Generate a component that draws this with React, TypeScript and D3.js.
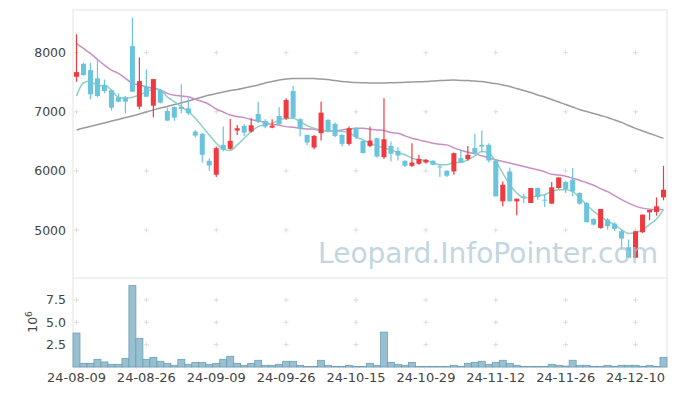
import * as d3 from 'd3'

const dates = [
  '24-08-09', '24-08-12', '24-08-13', '24-08-14', '24-08-16', '24-08-19', '24-08-20', '24-08-21', '24-08-22', '24-08-23',
  '24-08-26', '24-08-27', '24-08-28', '24-08-29', '24-08-30', '24-09-02', '24-09-03', '24-09-04', '24-09-05', '24-09-06',
  '24-09-09', '24-09-10', '24-09-11', '24-09-12', '24-09-13', '24-09-19', '24-09-20', '24-09-23', '24-09-24', '24-09-25',
  '24-09-26', '24-09-27', '24-09-30', '24-10-02', '24-10-04', '24-10-07', '24-10-08', '24-10-10', '24-10-11', '24-10-14',
  '24-10-15', '24-10-16', '24-10-17', '24-10-18', '24-10-21', '24-10-22', '24-10-23', '24-10-24', '24-10-25', '24-10-28',
  '24-10-29', '24-10-30', '24-10-31', '24-11-01', '24-11-04', '24-11-05', '24-11-06', '24-11-07', '24-11-08', '24-11-11',
  '24-11-12', '24-11-13', '24-11-14', '24-11-15', '24-11-18', '24-11-19', '24-11-20', '24-11-21', '24-11-22', '24-11-25',
  '24-11-26', '24-11-27', '24-11-28', '24-11-29', '24-12-02', '24-12-03', '24-12-04', '24-12-05', '24-12-06', '24-12-09',
  '24-12-10', '24-12-11', '24-12-12', '24-12-13', '24-12-16',
]

const open = [
  7592, 7811, 7705, 7565, 7452, 7363, 7245, 7245, 8110, 7087,
  7423, 7103, 7368, 7014, 7081, 7081, 7059, 6665, 6626, 6171,
  5935, 6440, 6373, 6682, 6761, 6665, 6963, 6845, 6732, 6929,
  6890, 7351, 6874, 6609, 6395, 6637, 6862, 6795, 6609, 6457,
  6722, 6508, 6423, 6553, 6232, 6423, 6339, 6171, 6086, 6120,
  6142, 6171, 6075, 6002, 5991, 6215, 6199, 6385, 6440, 6440,
  6171, 5485, 5991, 5485, 5569, 5457, 5710, 5513, 5446, 5710,
  5811, 5850, 5626, 5457, 5187, 5035, 5176, 5108, 4979, 4709,
  4530, 4962, 5299, 5305, 5552,
]
const high = [
  8312, 7830, 7828, 7885, 7548, 7370, 7312, 7267, 8593, 7919,
  7717, 7553, 7390, 7069, 7090, 7464, 7228, 6693, 6640, 6216,
  6412, 6750, 6880, 6778, 6789, 6890, 7170, 6874, 6874, 7076,
  7228, 7435, 6890, 6615, 6609, 7170, 6879, 6817, 6620, 6749,
  6740, 6520, 6749, 6564, 7228, 6497, 6401, 6180, 6469, 6272,
  6200, 6180, 6120, 6010, 6311, 6356, 6423, 6626, 6682, 6469,
  6187, 5822, 6058, 5530, 5614, 5710, 5720, 5597, 5811, 5890,
  5833, 6047, 5640, 5470, 5200, 5356, 5200, 5130, 5000, 4839,
  4979, 5260, 5339, 5552, 6086,
]
const low = [
  7508, 7610, 7211, 7245, 7312, 7022, 7160, 6975, 7339, 7042,
  7250, 6907, 7140, 6850, 6850, 6975, 6946, 6564, 6142, 6002,
  5896, 6328, 6356, 6609, 6592, 6648, 6806, 6722, 6722, 6766,
  6862, 6890, 6580, 6440, 6367, 6513, 6648, 6570, 6412, 6429,
  6540, 6300, 6401, 6226, 6204, 6159, 6176, 6064, 6064, 6103,
  6120, 6095, 5896, 5896, 5935, 6142, 6171, 6289, 6311, 6142,
  5569, 5400, 5485, 5251, 5457, 5457, 5513, 5390, 5446, 5700,
  5626, 5569, 5429, 5131, 5075, 5020, 5007, 4979, 4670, 4530,
  4530, 4950, 5164, 5243, 5502,
]
const close = [
  7671, 7621, 7295, 7267, 7351, 7069, 7171, 7171, 7339, 7519,
  7255, 7553, 7154, 6850, 6901, 7047, 6975, 6597, 6272, 6092,
  6385, 6356, 6508, 6722, 6648, 6772, 6833, 6749, 6766, 6789,
  7199, 6901, 6710, 6479, 6592, 6985, 6676, 6592, 6457, 6722,
  6570, 6300, 6513, 6243, 6536, 6289, 6260, 6086, 6142, 6204,
  6187, 6103, 6064, 5918, 6300, 6142, 6272, 6300, 6412, 6176,
  5569, 5766, 5485, 5530, 5552, 5710, 5558, 5502, 5721, 5890,
  5693, 5653, 5446, 5131, 5091, 5356, 5063, 5019, 4855, 4530,
  4979, 5260, 5339, 5400, 5682,
]

// volume, millions of shares
const volume = [
  3.8, 0.41, 0.41, 0.86, 0.56, 0.3, 0.3, 0.97, 9.1, 3.2,
  0.86, 1.08, 0.64, 0.41, 0.19, 0.86, 0.3, 0.52, 0.52, 0.3,
  0.41, 0.86, 1.2, 0.41, 0.19, 0.41, 0.75, 0.19, 0.19, 0.3,
  0.64, 0.64, 0.19, 0.07, 0.07, 0.75, 0.19, 0.07, 0.05, 0.19,
  0.05, 0.05, 0.41, 0.19, 3.9, 0.52, 0.3, 0.19, 0.52, 0.05,
  0.05, 0.05, 0.05, 0.05, 0.19, 0.05, 0.41, 0.52, 0.64, 0.3,
  0.52, 0.75, 0.41, 0.19, 0.05, 0.05, 0.05, 0.05, 0.3, 0.19,
  0.1, 0.75, 0.19, 0.19, 0.07, 0.07, 0.19, 0.07, 0.19, 0.19,
  0.19, 0.07, 0.19, 0.05, 1.08,
]

const ma5 = [
  7267, 7491, 7520, 7435, 7447, 7368, 7245, 7228, 7245, 7283,
  7339, 7380, 7368, 7250, 7170, 7086, 7002, 6891, 6749, 6609,
  6469, 6368, 6344, 6440, 6553, 6665, 6749, 6778, 6806, 6862,
  6891, 6891, 6833, 6766, 6722, 6693, 6676, 6676, 6665, 6648,
  6570, 6525, 6469, 6424, 6385, 6356, 6311, 6272, 6216, 6188,
  6176, 6142, 6103, 6103, 6142, 6142, 6188, 6255, 6327, 6301,
  6159, 5963, 5766, 5626, 5542, 5552, 5581, 5597, 5653, 5682,
  5682, 5653, 5542, 5429, 5316, 5232, 5147, 5092, 5007, 4940,
  4952, 5007, 5092, 5188, 5345,
]
const ma20 = [
  8155, 8071, 7987, 7885, 7789, 7705, 7649, 7565, 7481, 7452,
  7423, 7396, 7368, 7312, 7278, 7267, 7255, 7211, 7174, 7123,
  7047, 6997, 6946, 6921, 6901, 6870, 6845, 6823, 6789, 6773,
  6749, 6739, 6722, 6710, 6705, 6682, 6676, 6676, 6693, 6710,
  6722, 6722, 6705, 6693, 6682, 6648, 6638, 6592, 6553, 6525,
  6496, 6469, 6452, 6440, 6390, 6348, 6314, 6289, 6255, 6221,
  6188, 6159, 6132, 6103, 6075, 6044, 6019, 5985, 5943, 5930,
  5909, 5876, 5842, 5800, 5758, 5699, 5648, 5581, 5513, 5454,
  5404, 5370, 5353, 5345, 5345,
]
const ma60 = [
  6693, 6727, 6752, 6786, 6811, 6845, 6870, 6904, 6929, 6963,
  6997, 7031, 7064, 7090, 7123, 7149, 7182, 7216, 7250, 7283,
  7309, 7334, 7359, 7376, 7401, 7427, 7452, 7486, 7511, 7536,
  7553, 7562, 7565, 7565, 7562, 7553, 7545, 7528, 7514, 7503,
  7494, 7491, 7489, 7489, 7489, 7491, 7494, 7498, 7503, 7508,
  7511, 7520, 7528, 7533, 7536, 7531, 7528, 7520, 7511, 7494,
  7477, 7452, 7427, 7393, 7359, 7326, 7283, 7250, 7208, 7165,
  7123, 7081, 7039, 7005, 6972, 6938, 6904, 6862, 6820, 6769,
  6719, 6676, 6634, 6592, 6550,
]

const priceTicks = [5000, 6000, 7000, 8000]
const volTicks = [2.5, 5.0, 7.5]
const dateTickEvery = 10

const W = 677
const H = 396
const left = 73
const right = 667
const top = 10
const split = 278
const bottom = 367

const UP = '#f03a40'
const DOWN = '#6ac4dc'

export default function App() {
  const idx = dates.map((_, i) => i)
  const x = d3.scaleBand<number>().domain(idx).range([left, right]).padding(0)
  const cx = (i: number) => (x(i) ?? 0) + x.bandwidth() / 2
  const y = d3.scaleLinear().domain([4188, 8722]).range([split, top])
  const yv = d3.scaleLinear().domain([0, 9.95]).range([bottom, split])
  const bodyW = x.bandwidth() * 0.72

  const line = (vals: number[]) =>
    d3.line<number>().x((_, i) => cx(i)).y(d => y(d)).curve(d3.curveMonotoneX)(vals) ?? ''

  const xTicks = idx.filter(i => i % dateTickEvery === 0)
  const font = 'DejaVu Sans, sans-serif'

  const cross = (px: number, py: number, k: string) => (
    <g key={k} stroke="#dcdcdc" strokeWidth={1}>
      <line x1={px - 2.5} x2={px + 2.5} y1={py} y2={py} />
      <line x1={px} x2={px} y1={py - 2.5} y2={py + 2.5} />
    </g>
  )

  return (
    <svg width={W} height={H} style={{ position: 'absolute', left: 0, top: 0, background: '#fff' }}>
      {/* grid crosses */}
      {xTicks.map(i => priceTicks.map(t => cross(cx(i), y(t), `p${i}-${t}`)))}
      {xTicks.map(i => volTicks.map(t => cross(cx(i), yv(t), `v${i}-${t}`)))}

      {/* frame */}
      <rect x={left} y={top} width={right - left} height={bottom - top} fill="none" stroke="#e4e4e4" />
      <line x1={left} x2={right} y1={split} y2={split} stroke="#e4e4e4" />

      {/* moving averages */}
      <path d={line(ma60)} fill="none" stroke="#9b9b9b" strokeWidth={1.5} />
      <path d={line(ma20)} fill="none" stroke="#c98fc4" strokeWidth={1.5} />
      <path d={line(ma5)} fill="none" stroke="#8fd0c4" strokeWidth={1.5} />

      {/* candles */}
      {idx.map(i => {
        const up = close[i] >= open[i]
        const c = up ? UP : DOWN
        const y0 = y(Math.max(open[i], close[i]))
        const y1 = y(Math.min(open[i], close[i]))
        return (
          <g key={i}>
            <line x1={cx(i)} x2={cx(i)} y1={y(high[i])} y2={y(low[i])} stroke={c} strokeWidth={1.2} />
            <rect x={cx(i) - bodyW / 2} y={y0} width={bodyW} height={Math.max(1, y1 - y0)} fill={c} />
          </g>
        )
      })}

      {/* watermark */}
      <text x={318} y={263} fontFamily={font} fontSize={28} textLength={340} lengthAdjust="spacingAndGlyphs"
        fill="#a9c6d6" opacity={0.7}>
        Leopard.InfoPointer.com
      </text>

      {/* volume */}
      {idx.map(i => (
        <rect key={`vol${i}`} x={x(i)} y={yv(volume[i])} width={x.bandwidth()} height={bottom - yv(volume[i])}
          fill="#99c0d0" stroke="#6e9fb6" strokeWidth={0.8} />
      ))}

      {/* y labels */}
      {priceTicks.map(t => (
        <text key={t} x={66} y={y(t) + 4.5} textAnchor="end" fontFamily={font} fontSize={12.5} fill="#444">{t}</text>
      ))}
      {volTicks.map(t => (
        <text key={t} x={66} y={yv(t) + 4.5} textAnchor="end" fontFamily={font} fontSize={12.5} fill="#444">{t.toFixed(1)}</text>
      ))}
      <text transform="translate(37,322) rotate(-90)" textAnchor="middle" fontFamily={font} fontSize={12.5} fill="#444">
        10<tspan dy={-5} fontSize={9}>6</tspan>
      </text>

      {/* x labels */}
      {xTicks.map(i => (
        <text key={`d${i}`} x={cx(i)} y={382} textAnchor="middle" fontFamily={font} fontSize={13} fill="#444">{dates[i]}</text>
      ))}
    </svg>
  )
}
